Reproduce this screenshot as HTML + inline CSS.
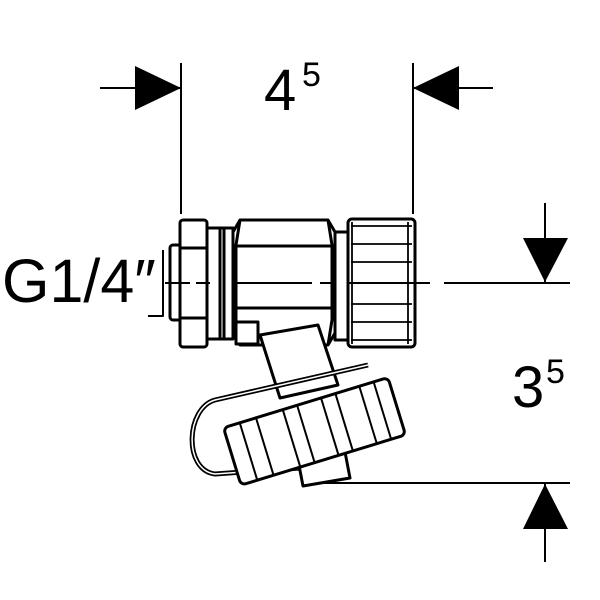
<!DOCTYPE html>
<html><head><style>html,body{margin:0;padding:0;background:#fff}svg{display:block}</style></head>
<body>
<svg width="600" height="600" viewBox="0 0 600 600" xmlns="http://www.w3.org/2000/svg" font-family="Liberation Sans, sans-serif">
<g stroke="#000" stroke-width="2" fill="none">
<line x1="181" y1="63" x2="181" y2="214"/>
<line x1="413" y1="63" x2="413" y2="214"/>
<line x1="100" y1="88" x2="181" y2="88"/>
<line x1="413" y1="88" x2="493" y2="88"/>
<line x1="545" y1="203" x2="545" y2="283"/>
<line x1="444" y1="283" x2="570" y2="283"/>
<line x1="323" y1="483" x2="570" y2="483"/>
<line x1="545" y1="483" x2="545" y2="562"/>
</g>
<g fill="#000">
<polygon points="135,66 181,88 135,110"/>
<polygon points="459,66 413,88 459,110"/>
<polygon points="523,238 568,238 545,282"/>
<polygon points="523,529 568,529 545,484"/>
</g>
<text x="264" y="110" font-size="58">4</text>
<text x="302" y="86" font-size="34">5</text>
<text x="512" y="407" font-size="58">3</text>
<text x="546" y="383" font-size="34">5</text>
<text x="2" y="302" font-size="61">G1/4″</text>

<g stroke="#000" stroke-width="3" fill="#fff" stroke-linejoin="round">
<rect x="170" y="245" width="11" height="75" rx="3"/>
<path d="M148 316 L163 316 L163 250" fill="none" stroke-width="2"/>
<rect x="180" y="220" width="27" height="127" rx="3"/>
<line x1="180" y1="248" x2="207" y2="248"/>
<line x1="180" y1="318" x2="207" y2="318"/>
<rect x="207" y="228" width="26" height="111"/>
<line x1="220" y1="228" x2="220" y2="339"/>
<line x1="224" y1="228" x2="224" y2="339"/>
<path d="M240 220 L328 220 L335 232 L335 333 L328 345 L240 345 L233 333 L233 232 Z"/>
<path d="M240 220 L236 245 L236 320 L240 345" fill="none"/>
<path d="M328 220 L332 245 L332 320 L328 345" fill="none"/>
<line x1="236" y1="246" x2="332" y2="246"/>
<line x1="236" y1="308" x2="332" y2="308"/>
<rect x="335" y="232" width="14" height="108"/>
<rect x="348" y="219" width="67" height="128" rx="4"/>
<g stroke-width="1.8">
<line x1="351" y1="226" x2="412" y2="226"/>
<line x1="351" y1="244" x2="412" y2="244"/>
<line x1="351" y1="262" x2="412" y2="262"/>
<line x1="351" y1="304" x2="412" y2="304"/>
<line x1="351" y1="322" x2="412" y2="322"/>
<line x1="351" y1="340" x2="412" y2="340"/>
<line x1="408" y1="222" x2="408" y2="344"/>
<line x1="352" y1="222" x2="352" y2="344"/>
</g>
<path d="M260 335 L318 325 L338 385 L280 398 Z"/>
<rect x="236" y="322" width="22" height="22"/>
<path d="M368 365 L215 400 C186 408 183 470 215 474 L300 468" fill="none" stroke-width="5"/>
<path d="M368 365 L215 400 C186 408 183 470 215 474 L300 468" fill="none" stroke="#fff" stroke-width="1.5"/>
<path d="M298 460 L345 452 L350 478 L303 486 Z"/>
<g transform="rotate(-17 312 430)">
<rect x="228" y="402" width="172" height="60" rx="5"/>
<g stroke-width="2">
<line x1="245" y1="402" x2="245" y2="462"/>
<line x1="262" y1="402" x2="262" y2="462"/>
<line x1="290" y1="402" x2="290" y2="462"/>
<line x1="305" y1="402" x2="305" y2="462"/>
<line x1="330" y1="402" x2="330" y2="462"/>
<line x1="345" y1="402" x2="345" y2="462"/>
<line x1="370" y1="402" x2="370" y2="462"/>
<line x1="385" y1="402" x2="385" y2="462"/>
</g>
</g>
</g>
<g stroke="#000" stroke-width="2">
<line x1="165" y1="283" x2="190" y2="283"/>
<line x1="196" y1="283" x2="210" y2="283"/>
<line x1="236" y1="283" x2="312" y2="283"/>
<line x1="320" y1="283" x2="334" y2="283"/>
<line x1="348" y1="283" x2="430" y2="283"/>
</g>
</svg>
</body></html>
